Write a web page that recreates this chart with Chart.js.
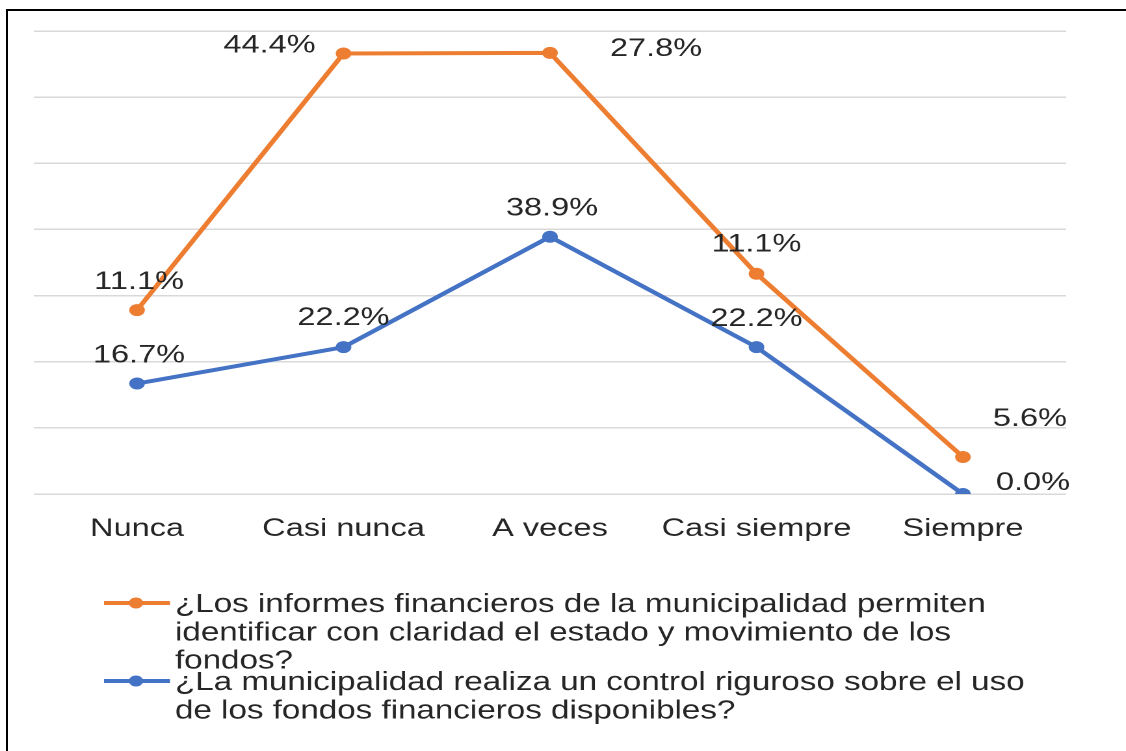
<!DOCTYPE html>
<html><head><meta charset="utf-8">
<script src="https://cdn.jsdelivr.net/npm/chart.js@4"></script>
<style>
html,body{margin:0;padding:0;background:#fff;overflow:hidden;width:1126px;height:751px;position:relative;}
#wrap{position:absolute;left:0;top:0;width:866px;height:751px;transform:scaleX(1.3002);transform-origin:0 0;}
#frame{position:absolute;left:6px;top:9px;width:1120px;height:742px;border-top:2px solid #000;border-left:2px solid #000;box-sizing:border-box;pointer-events:none;}
</style></head><body>
<div id="wrap"><canvas id="c" width="866" height="751"></canvas></div>
<div id="frame"></div>
<script>
// ---- data ----
const categories = ['Nunca', 'Casi nunca', 'A veces', 'Casi siempre', 'Siempre'];
const informesName = '¿Los informes financieros de la municipalidad permiten identificar con claridad el estado y movimiento de los fondos?';
const controlName = '¿La municipalidad realiza un control riguroso sobre el uso de los fondos financieros disponibles?';
const informesValues = [11.1, 44.4, 27.8, 11.1, 5.6];
const controlValues = [16.7, 22.2, 38.9, 22.2, 0.0];
const yTickValues = [0, 10, 20, 30, 40, 50, 60, 70];

// ---- styling / layout ----
const SX = 1.3002;
const FONT = '"Liberation Sans", Arial, sans-serif';
const TEXT = '#262626';
const ORANGE = '#ED7D31';
const BLUE = '#4472C4';
// label offsets relative to each point (screen px, before stretch correction)
const labelOffsets = {
  informes: [[2, -30], [-74, -10], [106, -6], [0, -31], [67, -40]],
  control: [[2, -30], [0, -31], [2, -30], [0, -30], [70, -13]]
};

const labelPlugin = {
  id: 'pointLabels',
  afterDatasetsDraw(chart) {
    const ctx = chart.ctx;
    ctx.save();
    ctx.font = '25px ' + FONT;
    ctx.fillStyle = TEXT;
    ctx.textAlign = 'center';
    ctx.textBaseline = 'alphabetic';
    chart.data.datasets.forEach((ds, i) => {
      const meta = chart.getDatasetMeta(i);
      const offs = labelOffsets[ds.key];
      meta.data.forEach((pt, j) => {
        const txt = ds.raw[j].toFixed(1) + '%';
        ctx.fillText(txt, pt.x + offs[j][0] / SX, pt.y + offs[j][1] + 9);
      });
    });
    ctx.restore();
  }
};

function wrap(ctx, text, maxW) {
  const words = text.split(' ');
  const lines = [];
  let cur = '';
  words.forEach(w => {
    const t = cur ? cur + ' ' + w : w;
    if (cur && ctx.measureText(t).width > maxW) { lines.push(cur); cur = w; }
    else cur = t;
  });
  if (cur) lines.push(cur);
  return lines;
}

const legendPlugin = {
  id: 'wrapLegend',
  afterDraw(chart) {
    const ctx = chart.ctx;
    ctx.save();
    ctx.font = '25.5px ' + FONT;
    const items = [
      { name: informesName, color: ORANGE, y: 603 },
      { name: controlName, color: BLUE, y: 681 }
    ];
    items.forEach(it => {
      ctx.strokeStyle = it.color;
      ctx.lineWidth = 4;
      ctx.beginPath();
      ctx.moveTo(104 / SX, it.y);
      ctx.lineTo(170 / SX, it.y);
      ctx.stroke();
      ctx.fillStyle = it.color;
      ctx.beginPath();
      ctx.arc(136 / SX, it.y, 5.5, 0, Math.PI * 2);
      ctx.fill();
      ctx.fillStyle = TEXT;
      ctx.textAlign = 'left';
      ctx.textBaseline = 'alphabetic';
      const lines = wrap(ctx, it.name, 670);
      lines.forEach((ln, k) => ctx.fillText(ln, 175 / SX, it.y + k * 28.3 + 9));
    });
    ctx.restore();
  }
};

new Chart(document.getElementById('c'), {
  type: 'line',
  data: {
    labels: categories,
    datasets: [
      { key: 'control', label: controlName, raw: controlValues, data: controlValues,
        borderColor: BLUE, backgroundColor: BLUE, pointBackgroundColor: BLUE,
        borderWidth: 4, pointRadius: 6, pointBorderWidth: 0, tension: 0, fill: false },
      { key: 'informes', label: informesName, raw: informesValues, data: informesValues,
        borderColor: ORANGE, backgroundColor: ORANGE, pointBackgroundColor: ORANGE,
        borderWidth: 4, pointRadius: 6, pointBorderWidth: 0, tension: 0, fill: false }
    ]
  },
  options: {
    responsive: false,
    animation: false,
    devicePixelRatio: 2,
    layout: { padding: { left: 26, right: 46, top: 31, bottom: 187 } },
    plugins: { legend: { display: false }, tooltip: { enabled: false } },
    scales: {
      x: {
        offset: true,
        grid: { display: false, drawTicks: false },
        border: { display: false },
        ticks: { color: TEXT, font: { family: FONT, size: 25 }, padding: 20, maxRotation: 0, autoSkip: false }
      },
      y: {
        stacked: true,
        min: 0, max: 70,
        afterBuildTicks: axis => { axis.ticks = yTickValues.map(v => ({ value: v })); },
        ticks: { display: false },
        grid: { color: '#d9d9d9', lineWidth: 1.5, drawTicks: false },
        border: { display: false }
      }
    }
  },
  plugins: [labelPlugin, legendPlugin]
});
</script>
</body></html>
